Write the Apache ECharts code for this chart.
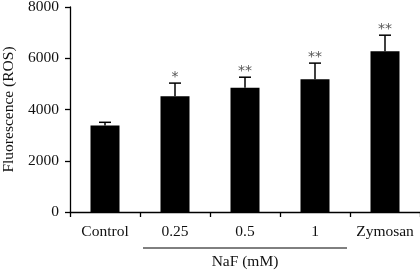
<!DOCTYPE html>
<html>
<head>
<meta charset="utf-8">
<script src="https://cdn.jsdelivr.net/npm/echarts@6/dist/echarts.min.js"></script>
<style>
  html, body { margin: 0; padding: 0; background: #fff; }
  #main { width: 420px; height: 270px; }
</style>
</head>
<body>
<div id="main"></div>
<script>
// data
var categories = ['Control', '0.25', '0.5', '1', 'Zymosan'];
var means = [3380, 4520, 4850, 5180, 6270];
var errUpper = [3500, 5030, 5260, 5810, 6900];
var marks = ['', '*', '**', '**', '**'];
var yTicks = [0, 2000, 4000, 6000, 8000];

var font = 'Liberation Serif';
var myChart = echarts.init(document.getElementById('main'));

var errData = categories.map(function (c, i) {
  return [i, means[i], errUpper[i], marks[i]];
});

var option = {
  animation: false,
  grid: { left: 70, right: 0, top: 7, bottom: 58, containLabel: false, outerBoundsMode: 'none' },
  xAxis: {
    type: 'category',
    data: categories,
    axisLine: { lineStyle: { color: '#000', width: 1.3 } },
    axisTick: { show: true, interval: 0, length: 5, lineStyle: { color: '#000', width: 1.3 } },
    axisLabel: { interval: 0, hideOverlap: false, color: '#111', fontFamily: font, fontSize: 15.5, margin: 12 }
  },
  yAxis: {
    type: 'value',
    min: yTicks[0],
    max: yTicks[yTicks.length - 1],
    interval: 2000,
    name: 'Fluorescence (ROS)',
    nameLocation: 'middle',
    nameGap: 50,
    nameTextStyle: { color: '#111', fontFamily: font, fontSize: 15.5 },
    splitLine: { show: false },
    axisLine: { show: true, lineStyle: { color: '#000', width: 1.3 } },
    axisTick: { show: true, length: 5, lineStyle: { color: '#000', width: 1.3 } },
    axisLabel: {
      color: '#111', fontFamily: font, fontSize: 15.5, margin: 11,
      formatter: function (v) { return String(v); }
    }
  },
  series: [
    {
      type: 'bar',
      data: means,
      barWidth: 29,
      itemStyle: { color: '#000' },
      z: 2
    },
    {
      type: 'custom',
      data: errData,
      z: 3,
      renderItem: function (params, api) {
        var x = api.value(0);
        var top = api.coord([x, api.value(1)]);
        var hi = api.coord([x, api.value(2)]);
        var cap = 6;
        var children = [
          { type: 'line', shape: { x1: top[0], y1: top[1], x2: hi[0], y2: hi[1] },
            style: { stroke: '#000', lineWidth: 1.5 } },
          { type: 'line', shape: { x1: hi[0] - cap, y1: hi[1], x2: hi[0] + cap, y2: hi[1] },
            style: { stroke: '#000', lineWidth: 1.5 } }
        ];
        var m = marks[params.dataIndex];
        if (m) {
          children.push({
            type: 'text',
            style: {
              text: m, x: hi[0], y: hi[1] + 1,
              textAlign: 'center', textVerticalAlign: 'bottom',
              fill: '#555', fontFamily: 'DejaVu Sans', fontSize: 14
            }
          });
        }
        return { type: 'group', children: children };
      }
    }
  ]
};

myChart.setOption(option);

// group bracket under the NaF categories
var p1 = myChart.convertToPixel({ xAxisIndex: 0 }, 1);
var p3 = myChart.convertToPixel({ xAxisIndex: 0 }, 3);
var half = 32;
var lineY = 248;
myChart.setOption({
  graphic: [
    { type: 'line', shape: { x1: p1 - half, y1: lineY, x2: p3 + half, y2: lineY },
      style: { stroke: '#000', lineWidth: 1 } },
    { type: 'text', x: (p1 + p3) / 2, y: lineY + 14,
      style: { text: 'NaF (mM)', textAlign: 'center', textVerticalAlign: 'middle',
               fill: '#111', fontFamily: font, fontSize: 15.5 } }
  ]
});
</script>
</body>
</html>
